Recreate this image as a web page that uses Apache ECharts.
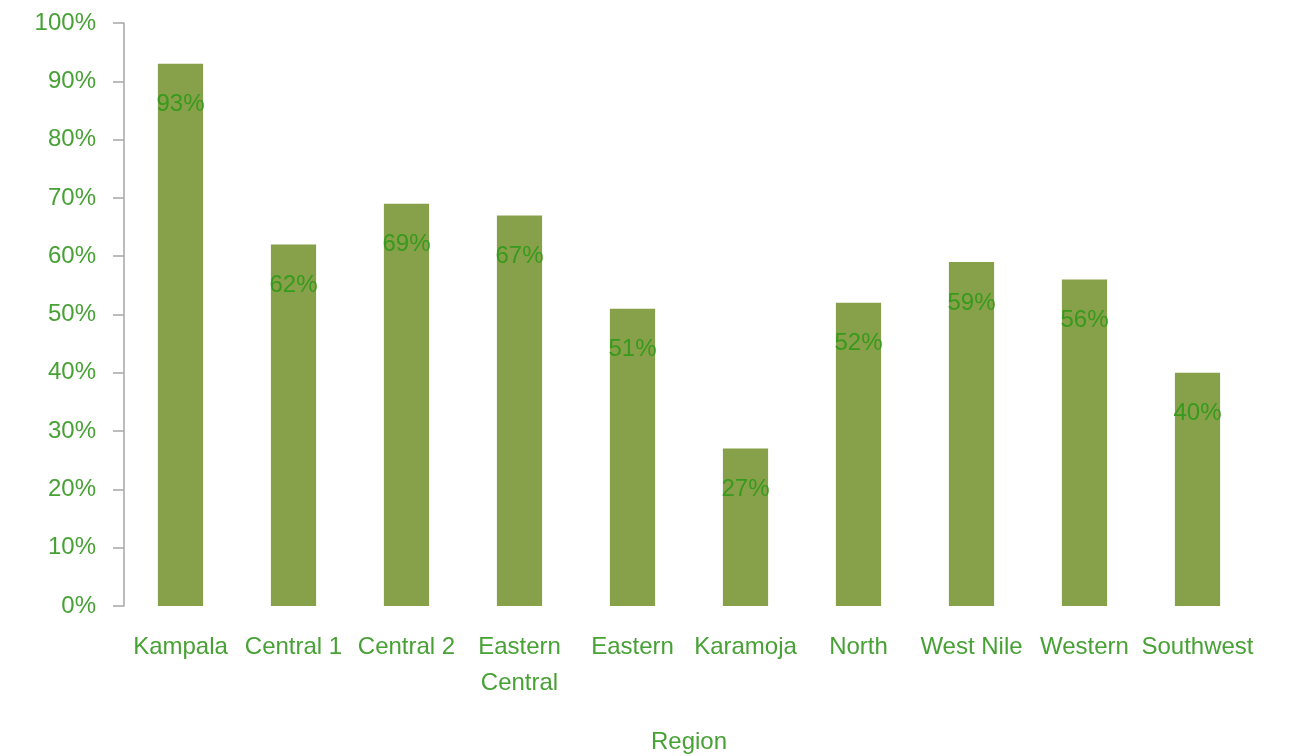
<!DOCTYPE html>
<html>
<head>
<meta charset="utf-8">
<script src="https://cdn.jsdelivr.net/npm/echarts@6/dist/echarts.min.js"></script>
<style>html,body{margin:0;padding:0;background:#fff}#c{width:1291px;height:756px}</style>
</head>
<body>
<div id="c"></div>
<script>
const categories = ['Kampala', 'Central 1', 'Central 2', 'Eastern\nCentral', 'Eastern', 'Karamoja', 'North', 'West Nile', 'Western', 'Southwest'];
const values = [93, 62, 69, 67, 51, 27, 52, 59, 56, 40];
const axisName = 'Region';

const FONT = '"Liberation Sans Narrow", "Liberation Sans", Arial, sans-serif';
const GREEN_TEXT = '#47a135';
const chart = echarts.init(document.getElementById('c'));
chart.setOption({
  animation: false,
  grid: { left: 124, right: 37, top: 23, bottom: 150, outerBoundsMode: 'none' },
  xAxis: {
    type: 'category',
    data: categories,
    name: axisName,
    nameLocation: 'middle',
    nameGap: 124,
    nameTextStyle: { color: GREEN_TEXT, fontSize: 24, fontFamily: FONT },
    axisLine: { show: false },
    axisTick: { show: false },
    axisLabel: { color: GREEN_TEXT, fontSize: 24, fontFamily: FONT, margin: 23, lineHeight: 36, interval: 0 }
  },
  yAxis: {
    type: 'value',
    min: 0, max: 100, interval: 10,
    axisLine: { show: true, lineStyle: { color: '#a6a6a6', width: 1.5 } },
    axisTick: { show: true, length: 11, lineStyle: { color: '#a6a6a6', width: 1.5 } },
    splitLine: { show: false },
    axisLabel: { color: GREEN_TEXT, fontSize: 24, fontFamily: FONT, margin: 28, padding: [5, 0, 0, 0], formatter: '{value}%' }
  },
  series: [{
    type: 'bar',
    data: values,
    barWidth: '40%',
    itemStyle: { color: '#87a14a' },
    label: {
      show: true,
      position: 'insideTop',
      distance: 29,
      color: '#389a1c',
      fontSize: 24,
      fontFamily: FONT,
      formatter: '{c}%'
    }
  }]
});
</script>
</body>
</html>
